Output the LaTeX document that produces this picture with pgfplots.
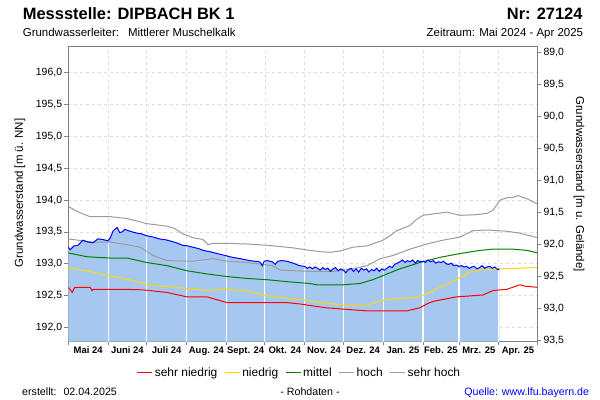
\documentclass[border=0pt]{standalone}
\usepackage{fontspec}
\setmainfont{Liberation Sans}
\usepackage{pgfplots}
\pgfplotsset{compat=1.18}

\definecolor{fillblue}{RGB}{166,200,240}
\definecolor{gwyellow}{RGB}{255,215,0}
\definecolor{gwgreen}{RGB}{0,128,0}
\definecolor{gwgray}{RGB}{155,155,155}
\definecolor{gridgray}{RGB}{222,222,222}
\definecolor{framegray}{RGB}{128,128,128}

\begin{document}
\begin{tikzpicture}
\useasboundingbox (0bp,0bp) rectangle (600bp,400bp);

% left axis: m ue. NN, days since 01.05.2024
\begin{axis}[
    at={(68.3bp,58.5bp)}, anchor=south west,
    scale only axis, width=469bp, height=295bp,
    xmin=0, xmax=365, ymin=191.78, ymax=196.41,
    xtick={0,31,61,92,123,153,184,214,245,276,304,335,365},
    xticklabels={Mai 24,Juni 24,Juli 24,Aug. 24,Sept. 24,Okt. 24,Nov. 24,Dez. 24,Jan. 25,Feb. 25,Mrz. 25,Apr. 25},
    x tick label as interval,
    ytick={192,192.5,193,193.5,194,194.5,195,195.5,196},
    xtick pos=bottom, ytick pos=left,
    tick align=outside, major tick length=4bp,
    tick style={framegray, line width=0.8bp},
    axis line style={framegray, line width=0.8bp},
    grid=major,
    grid style={gridgray, dash pattern=on 3bp off 3bp, line width=0.7bp},
    /pgf/number format/assume math mode=true,
    yticklabel style={font=\fontsize{10.5}{12}\selectfont, inner sep=2bp,
        /pgf/number format/use comma, /pgf/number format/fixed,
        /pgf/number format/fixed zerofill, /pgf/number format/precision=1},
    xticklabel style={font=\bfseries\fontsize{9.5}{11}\selectfont, inner sep=1bp},
    legend style={at={(0.493,-0.1058)}, anchor=center, draw=none, fill=none,
        legend columns=-1, font=\fontsize{12}{14}\selectfont,
        /tikz/every even column/.append style={column sep=5bp}},
    legend image code/.code={\draw[#1, line width=1bp] (0bp,0bp) -- (15bp,0bp);},
]

% Messwerte (Flaeche)
\addplot[draw=none, fill=fillblue, forget plot] coordinates {
(0,193.26) (1.5,193.22) (4.4,193.28) (7.5,193.29) (11.4,193.37) (15.3,193.34)
(19.2,193.33) (23,193.39) (27,193.38) (30.9,193.36) (32.5,193.40) (35,193.52)
(38,193.57) (40,193.49) (42,193.50) (44,193.54) (48,193.51) (53.5,193.48)
(57,193.47) (61,193.44) (66,193.42) (71,193.39) (75,193.38) (79,193.36)
(84,193.33) (89,193.29) (93,193.28) (97,193.26) (101,193.24) (105,193.21)
(110,193.19) (116,193.16) (122,193.13) (128,193.10) (134,193.08) (141,193.05)
(145,193.04) (149,193.03) (151,192.97) (152.5,193.04) (155,193.05) (159,193.03)
(161,192.99) (163,193.04) (166,193.05) (170,193.04) (175,193.01) (180,192.97)
(184,192.96) (186,192.93) (188,192.95) (190,192.92) (192,192.95) (194,192.93)
(196,192.90) (198,192.94) (200,192.91) (202,192.93) (204,192.88) (206,192.92)
(208,192.94) (210,192.89) (212,192.92) (214,192.90) (216,192.86) (218,192.91)
(220,192.93) (222,192.88) (224,192.92) (226,192.87) (228,192.93) (230,192.90)
(232,192.92) (234,192.87) (236,192.91) (238,192.89) (240,192.93) (242,192.88)
(244,192.92) (246,192.90) (248,192.93) (250,192.96) (252,192.94) (254,192.99)
(256,193.01) (258,193.03) (260,193.06) (262,193.02) (264,193.05) (266,193.03)
(268,193.06) (270,193.01) (272,193.05) (274,193.03) (276,193.04) (278,193.02)
(280,193.06) (282,193.03) (284,193.05) (286,193.01) (288,193.03) (290,193.02)
(292,193.04) (294,193.00) (296,192.99) (298,193.01) (300,192.97) (302,192.98)
(304,192.96) (306,192.97) (308,192.95) (310,192.96) (312,192.93) (314,192.95)
(316,192.96) (318,192.92) (320,192.94) (322,192.97) (324,192.93) (326,192.95)
(328,192.96) (330,192.93) (332,192.95) (334,192.91) (335.5,192.92)
} \closedcycle;

% Monatslinien in der Flaeche
\addplot[ycomb, draw=white, line width=1.2bp, mark=none, forget plot] coordinates {
(31,193.34) (61,193.42) (92,193.26) (123,193.11) (153,193.02) (184,192.94)
(214,192.88) (245,192.88) (276,193.02) (304,192.94) (335,192.89)
};

\addplot[red, line width=1bp] coordinates {
(0,192.63) (2,192.58) (3,192.55) (5,192.63) (17,192.63) (18.5,192.58)
(19.5,192.60) (42.6,192.60) (58.3,192.59) (76.8,192.55) (92.4,192.48)
(108,192.48) (123.5,192.39) (170,192.39) (180,192.37) (190,192.34)
(200,192.31) (232.5,192.26) (263.5,192.26) (273.7,192.31) (279,192.37)
(284,192.41) (302,192.48) (322.7,192.51) (330.5,192.58) (341.4,192.60)
(351.5,192.67) (355,192.65) (365,192.63)
};
\addlegendentry{sehr niedrig}

\addplot[gwyellow, line width=1bp] coordinates {
(0,192.94) (19,192.87) (32.5,192.81) (45.7,192.76) (61,192.68) (76.8,192.64)
(87,192.62) (108,192.58) (123.5,192.60) (139,192.57) (154.6,192.50)
(170,192.46) (188,192.42) (196,192.39) (214,192.35) (232.5,192.35)
(242.7,192.42) (252.8,192.45) (271,192.47) (279,192.53) (289,192.63)
(302,192.75) (312.5,192.87) (320.4,192.90) (336,192.92) (365,192.94)
};
\addlegendentry{niedrig}

\addplot[gwgreen, line width=1bp] coordinates {
(0,193.17) (14.6,193.11) (32.5,193.09) (45.7,193.09) (61,193.02) (76.8,192.97)
(92.4,192.89) (108,192.84) (123.5,192.80) (139,192.77) (154.6,192.75)
(170,192.72) (188,192.69) (193.5,192.67) (213.8,192.67) (227,192.69)
(237,192.75) (248,192.84) (258,192.92) (273.7,193.02) (289,193.10)
(304.8,193.16) (320.4,193.21) (330.5,193.23) (346,193.23) (357,193.21)
(365,193.17)
};
\addlegendentry{mittel}

\addplot[gwgray, line width=1bp] coordinates {
(0,193.39) (19,193.34) (32.5,193.34) (45.7,193.30) (55.8,193.26) (66,193.13)
(76.8,193.05) (97,193.04) (104.8,193.06) (112.6,193.08) (123.5,193.04)
(139,193.02) (159,192.97) (164.8,192.90) (188,192.88) (206,192.88)
(221.5,192.92) (232.5,192.97) (242.7,193.08) (252.8,193.13) (266,193.23)
(279,193.31) (291.6,193.37) (304.8,193.42) (315,193.52) (325.8,193.53)
(341.4,193.51) (351.5,193.48) (365,193.41)
};
\addlegendentry{hoch}

\addplot[gwgray, line width=1bp] coordinates {
(0,193.90) (5.2,193.84) (9.1,193.80) (16.9,193.74) (32.5,193.74) (45.7,193.71)
(53.5,193.67) (61,193.63) (69,193.61) (76.8,193.59) (83,193.55) (89,193.47)
(97,193.41) (104.8,193.38) (108.7,193.30) (112.6,193.32) (123.5,193.32)
(139,193.31) (154.6,193.29) (164.8,193.27) (174.9,193.25) (188.1,193.21)
(196,193.19) (203.6,193.18) (211.4,193.20) (221.5,193.26) (232.5,193.28)
(244.9,193.37) (250.3,193.44) (255.7,193.52) (265.8,193.60) (271.3,193.70)
(276,193.76) (294.6,193.81) (304.8,193.76) (316.5,193.77) (325.8,193.79)
(330.5,193.84) (336,194.00) (342.2,194.04) (346,194.04) (350,194.07)
(357,194.02) (365,193.94)
};
\addlegendentry{sehr hoch}

% Messwerte (Linie)
\addplot[blue, line width=1bp, forget plot] coordinates {
(0,193.26) (1.5,193.22) (4.4,193.28) (7.5,193.29) (11.4,193.37) (15.3,193.34)
(19.2,193.33) (23,193.39) (27,193.38) (30.9,193.36) (32.5,193.40) (35,193.52)
(38,193.57) (40,193.49) (42,193.50) (44,193.54) (48,193.51) (53.5,193.48)
(57,193.47) (61,193.44) (66,193.42) (71,193.39) (75,193.38) (79,193.36)
(84,193.33) (89,193.29) (93,193.28) (97,193.26) (101,193.24) (105,193.21)
(110,193.19) (116,193.16) (122,193.13) (128,193.10) (134,193.08) (141,193.05)
(145,193.04) (149,193.03) (151,192.97) (152.5,193.04) (155,193.05) (159,193.03)
(161,192.99) (163,193.04) (166,193.05) (170,193.04) (175,193.01) (180,192.97)
(184,192.96) (186,192.93) (188,192.95) (190,192.92) (192,192.95) (194,192.93)
(196,192.90) (198,192.94) (200,192.91) (202,192.93) (204,192.88) (206,192.92)
(208,192.94) (210,192.89) (212,192.92) (214,192.90) (216,192.86) (218,192.91)
(220,192.93) (222,192.88) (224,192.92) (226,192.87) (228,192.93) (230,192.90)
(232,192.92) (234,192.87) (236,192.91) (238,192.89) (240,192.93) (242,192.88)
(244,192.92) (246,192.90) (248,192.93) (250,192.96) (252,192.94) (254,192.99)
(256,193.01) (258,193.03) (260,193.06) (262,193.02) (264,193.05) (266,193.03)
(268,193.06) (270,193.01) (272,193.05) (274,193.03) (276,193.04) (278,193.02)
(280,193.06) (282,193.03) (284,193.05) (286,193.01) (288,193.03) (290,193.02)
(292,193.04) (294,193.00) (296,192.99) (298,193.01) (300,192.97) (302,192.98)
(304,192.96) (306,192.97) (308,192.95) (310,192.96) (312,192.93) (314,192.95)
(316,192.96) (318,192.92) (320,192.94) (322,192.97) (324,192.93) (326,192.95)
(328,192.96) (330,192.93) (332,192.95) (334,192.91) (335.5,192.92)
};

\end{axis}

% right axis: m u. Gelaende
\begin{axis}[
    at={(68.3bp,58.5bp)}, anchor=south west,
    scale only axis, width=469bp, height=295bp,
    xmin=0, xmax=365, ymin=88.90, ymax=93.51, y dir=reverse,
    hide x axis, axis y line*=right,
    ytick={89,89.5,90,90.5,91,91.5,92,92.5,93,93.5},
    tick align=outside, major tick length=4bp,
    tick style={framegray, line width=0.8bp},
    axis line style={framegray, line width=0.8bp},
    /pgf/number format/assume math mode=true,
    yticklabel style={font=\fontsize{10.5}{12}\selectfont, inner sep=2bp,
        /pgf/number format/use comma, /pgf/number format/fixed,
        /pgf/number format/fixed zerofill, /pgf/number format/precision=1},
]
\end{axis}

% texts
\node[anchor=base west, inner sep=0pt, font=\bfseries\fontsize{16.5}{19}\selectfont] at (22.7bp,380.7bp) {Messstelle: DIPBACH BK 1};
\node[anchor=base east, inner sep=0pt, font=\bfseries\fontsize{16.5}{19}\selectfont] at (582.7bp,380.7bp) {Nr: 27124};
\node[anchor=base west, inner sep=0pt, font=\fontsize{11.5}{13}\selectfont] at (22.7bp,363.3bp) {Grundwasserleiter:\hspace{9bp}Mittlerer Muschelkalk};
\node[anchor=base east, inner sep=0pt, font=\fontsize{11.5}{13}\selectfont] at (583.3bp,363.3bp) {Zeitraum: Mai 2024 - Apr 2025};
\node[rotate=90, inner sep=0pt, font=\fontsize{11.5}{13}\selectfont] at (20bp,207bp) {Grundwasserstand [m ü. NN]};
\node[rotate=-90, inner sep=0pt, font=\fontsize{11.5}{13}\selectfont] at (579bp,216bp) {Grundwasserstand [m u. Gelände]};
\node[anchor=base west, inner sep=0pt, font=\fontsize{10.7}{12}\selectfont] at (22bp,5bp) {erstellt:\hspace{7bp}02.04.2025};
\node[anchor=base, inner sep=0pt, font=\fontsize{10.7}{12}\selectfont] at (310bp,5bp) {- Rohdaten -};
\node[anchor=base east, inner sep=0pt, text=blue, font=\fontsize{10.7}{12}\selectfont] at (589.3bp,5bp) {Quelle: www.lfu.bayern.de};

\end{tikzpicture}
\end{document}
